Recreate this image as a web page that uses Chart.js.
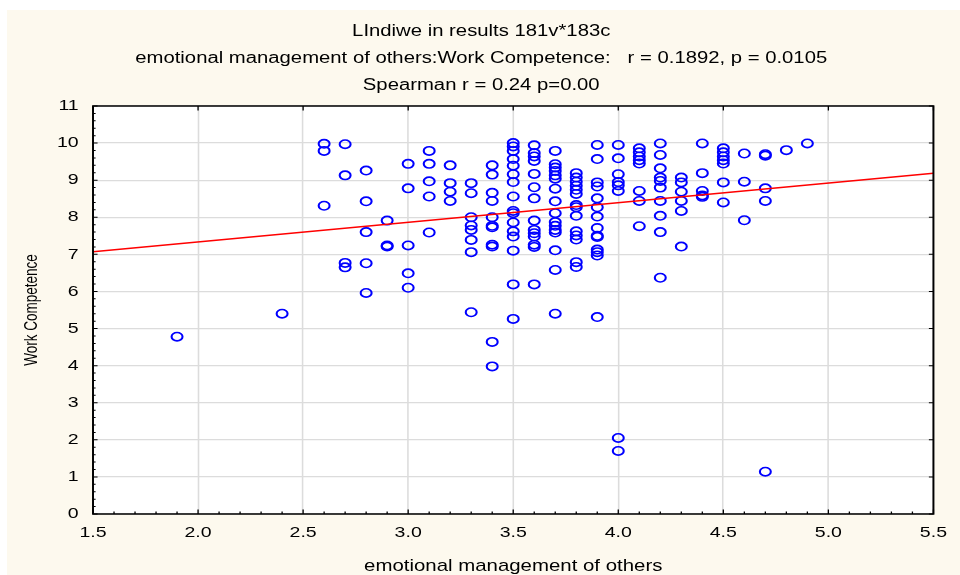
<!DOCTYPE html>
<html>
<head>
<meta charset="utf-8">
<script src="https://cdn.jsdelivr.net/npm/chart.js@4/dist/chart.umd.min.js"></script>
<style>
  html, body { margin: 0; padding: 0; background: #ffffff; width: 960px; height: 575px; overflow: hidden; }
  #panel { position: absolute; left: 7px; top: 10px; width: 953px; height: 565px; background: #fdf9ee; }
  #c { position: absolute; left: 0; top: 0; }
</style>
</head>
<body>
<div id="panel"></div>
<canvas id="c" width="738" height="575" style="width:960px;height:575px"></canvas>
<script>
// ---- data ----
const titleLines = [
  'LIndiwe in results 181v*183c',
  'emotional management of others:Work Competence:   r = 0.1892, p = 0.0105',
  'Spearman r = 0.24 p=0.00'
];
const xAxisTitle = 'emotional management of others';
const yAxisTitle = 'Work Competence';

// emotional management of others (x levels)
const xLevels = [1.9, 2.4, 2.6, 2.7, 2.8, 2.9, 3.0, 3.1, 3.2, 3.3, 3.4, 3.5, 3.6, 3.7, 3.8, 3.9,
                 4.0, 4.1, 4.2, 4.3, 4.4, 4.5, 4.6, 4.7, 4.8, 4.9];
// Work Competence values observed at each x level
const workCompetence = [
  [4.78],
  [5.40],
  [9.98, 9.79, 8.31],
  [9.97, 9.13, 6.77, 6.65],
  [9.26, 8.43, 7.60, 6.76, 5.96],
  [7.91, 7.24, 7.21],
  [9.44, 8.78, 7.24, 6.49, 6.10],
  [9.79, 9.44, 8.97, 8.56, 7.59],
  [9.40, 8.92, 8.69, 8.44],
  [8.92, 8.65, 8.00, 7.78, 7.66, 7.39, 7.06, 5.44],
  [9.40, 9.15, 8.66, 8.44, 8.00, 7.77, 7.73, 7.26, 7.21, 4.64, 3.98],
  [10.0, 9.91, 9.79, 9.57, 9.39, 9.16, 8.95, 8.56, 8.17, 8.11, 7.86, 7.62, 7.48, 7.10, 6.19, 5.26],
  [9.94, 9.73, 9.64, 9.52, 9.17, 8.81, 8.51, 7.91, 7.66, 7.57, 7.48, 7.26, 7.20, 6.19],
  [9.79, 9.43, 9.34, 9.25, 9.13, 9.04, 8.77, 8.43, 8.11, 7.87, 7.77, 7.66, 7.59, 7.11, 6.58, 5.40],
  [9.19, 9.07, 8.96, 8.85, 8.74, 8.63, 8.33, 8.27, 8.04, 7.62, 7.51, 7.40, 6.79, 6.66],
  [9.95, 9.57, 8.94, 8.83, 8.51, 8.27, 8.02, 7.71, 7.50, 7.47, 7.13, 7.06, 6.97, 5.31],
  [9.95, 9.59, 9.16, 8.95, 8.86, 8.71, 2.05, 1.70],
  [9.86, 9.75, 9.64, 9.54, 9.45, 8.71, 8.44, 7.76],
  [9.99, 9.68, 9.32, 9.07, 8.98, 8.80, 8.44, 8.04, 7.60, 6.37],
  [9.07, 8.94, 8.69, 8.44, 8.17, 7.21],
  [9.99, 9.19, 8.71, 8.59, 8.55],
  [9.86, 9.75, 9.64, 9.54, 9.45, 8.94, 8.40],
  [9.72, 8.96, 7.92],
  [9.70, 9.66, 8.78, 8.44, 1.14],
  [9.81],
  [9.99]
];

// fitted regression line endpoints
const regressionX = [1.5, 5.5];
const regressionY = [7.07, 9.19];

// axis ranges / ticks
const xMin = 1.5, xMax = 5.5, xStep = 0.5, xMinorStep = 0.1;
const yMin = 0, yMax = 11, yStep = 1, yMinorStep = 0.2;

// ---- build datasets ----
const points = [];
xLevels.forEach((xv, i) => workCompetence[i].forEach(yv => points.push({ x: xv, y: yv })));
const regression = regressionX.map((xv, i) => ({ x: xv, y: regressionY[i] }));

// The reference picture is horizontally stretched; draw on a narrower logical
// canvas and stretch it horizontally.
const LOGICAL_W = 738;
const SX = 960 / LOGICAL_W;

const FONT = '"Liberation Sans", Arial, Helvetica, sans-serif';

const framePlugin = {
  id: 'frame',
  beforeDraw(chart) {
    const { ctx, chartArea: a } = chart;
    ctx.save();
    ctx.fillStyle = '#ffffff';
    ctx.fillRect(a.left, a.top, a.right - a.left, a.bottom - a.top);
    ctx.restore();
  },
  afterDatasetsDraw(chart) {
    const { ctx, chartArea: a, scales } = chart;
    const x = scales.x, y = scales.y;
    ctx.save();
    ctx.strokeStyle = '#000000';
    ctx.lineWidth = 1;
    ctx.beginPath();
    const nx = Math.round((xMax - xMin) / xMinorStep);
    const perMajorX = Math.round(xStep / xMinorStep);
    for (let i = 0; i <= nx; i++) {
      const px = x.getPixelForValue(xMin + i * xMinorStep);
      const major = i % perMajorX === 0;
      const len = major ? 4.5 : 2.5;
      ctx.moveTo(px, a.bottom); ctx.lineTo(px, a.bottom - len);
      if (major) { ctx.moveTo(px, a.top); ctx.lineTo(px, a.top + len); }
    }
    const ny = Math.round((yMax - yMin) / yMinorStep);
    const perMajorY = Math.round(yStep / yMinorStep);
    for (let i = 0; i <= ny; i++) {
      const py = y.getPixelForValue(yMin + i * yMinorStep);
      const major = i % perMajorY === 0;
      const len = major ? 3.5 : 2;
      ctx.moveTo(a.left, py); ctx.lineTo(a.left + len, py);
      if (major) { ctx.moveTo(a.right, py); ctx.lineTo(a.right - len, py); }
    }
    ctx.stroke();
    ctx.lineWidth = 1.5;
    ctx.strokeRect(a.left, a.top, a.right - a.left, a.bottom - a.top);
    ctx.restore();
  }
};

const chart = new Chart(document.getElementById('c'), {
  type: 'scatter',
  data: {
    datasets: [
      {
        type: 'scatter',
        data: points,
        pointStyle: 'circle',
        pointRadius: 4.2,
        borderWidth: 1.6,
        borderColor: '#0000ff',
        backgroundColor: 'rgba(0,0,0,0)',
        order: 2
      },
      {
        type: 'line',
        data: regression,
        borderColor: '#ff0000',
        borderWidth: 1.5,
        pointRadius: 0,
        fill: false,
        order: 1
      }
    ]
  },
  options: {
    responsive: false,
    animation: false,
    events: [],
    layout: { padding: { left: 14, right: 12.1, top: 0, bottom: 0 } },
    plugins: {
      legend: { display: false },
      tooltip: { enabled: false },
      title: {
        display: true,
        text: titleLines,
        color: '#000000',
        font: { family: FONT, size: 15.6, weight: 'normal', lineHeight: '27px' },
        padding: { top: 18, bottom: 7 }
      }
    },
    scales: {
      x: {
        type: 'linear',
        min: xMin, max: xMax,
        afterFit(s) { s.height = 61; },
        ticks: {
          stepSize: xStep,
          autoSkip: false,
          maxRotation: 0,
          padding: 10,
          color: '#000000',
          font: { family: FONT, size: 15 },
          callback: v => Number(v).toFixed(1)
        },
        grid: { color: '#dcdcdc', lineWidth: 1.2, drawTicks: false },
        border: { display: false },
        title: {
          display: true,
          text: xAxisTitle,
          color: '#000000',
          font: { family: FONT, size: 15.7, lineHeight: 1.05 },
          padding: { top: 0, bottom: 0 }
        }
      },
      y: {
        type: 'linear',
        min: yMin, max: yMax,
        afterFit(s) { s.width = 57.5; },
        ticks: {
          stepSize: yStep,
          autoSkip: false,
          padding: 11,
          color: '#000000',
          font: { family: FONT, size: 15 }
        },
        grid: { color: '#dcdcdc', lineWidth: 1.2, drawTicks: false },
        border: { display: false },
        title: {
          display: true,
          text: yAxisTitle,
          color: '#000000',
          font: { family: FONT, size: 13.5, lineHeight: 1.2 },
          padding: { top: 2.9, bottom: 0 }
        }
      }
    }
  },
  plugins: [framePlugin]
});

// stretch horizontally: widen the bitmap and redraw with a horizontal scale
const cv = document.getElementById('c');
cv.width = 960;
cv.style.width = '960px';
cv.style.height = '575px';
chart.ctx.setTransform(SX, 0, 0, 1, 0, 0);
chart.draw();
</script>
</body>
</html>
